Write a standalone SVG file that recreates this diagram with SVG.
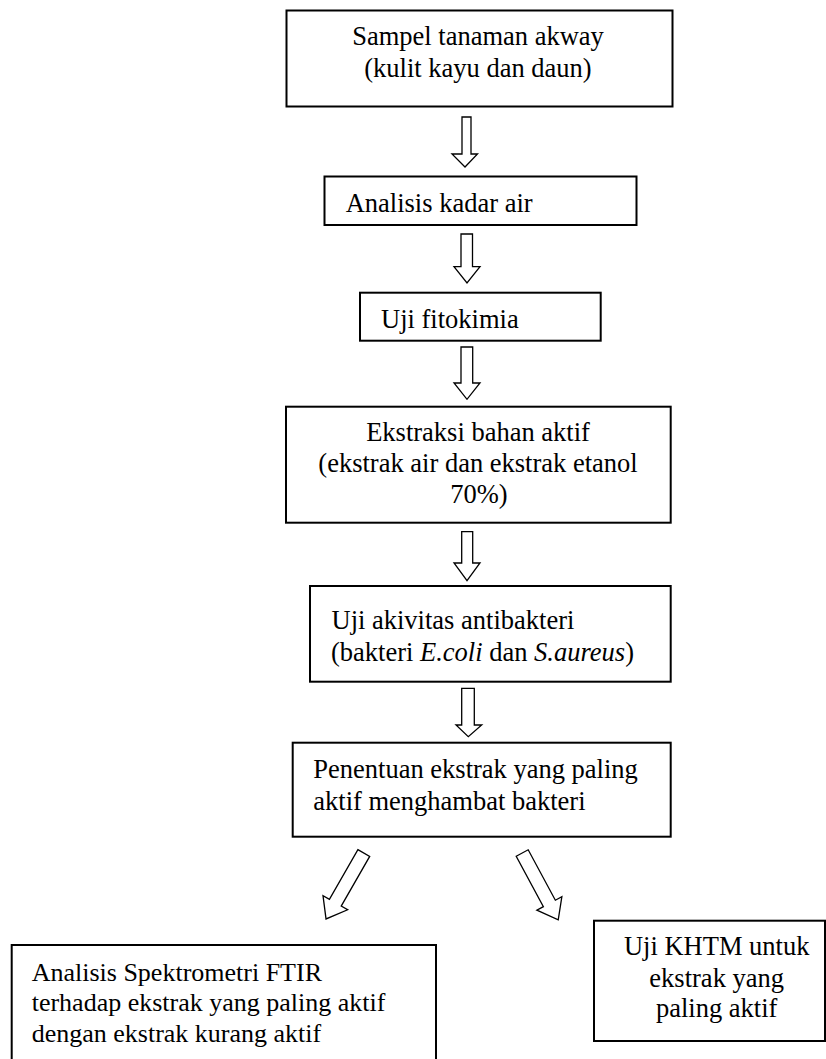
<svg xmlns="http://www.w3.org/2000/svg" width="826" height="1059" viewBox="0 0 826 1059">
<style>
.box{fill:#fff;stroke:#000;stroke-width:2}
.arr{fill:#fff;stroke:#000;stroke-width:1.3;stroke-linejoin:miter}
.t text{font-size:26.5px;fill:#000}
.t .s26 text{font-size:26px}
.c{text-anchor:middle}
.i{font-style:italic}
</style>
<defs>
<polygon id="diag" points="-6.8,0 6.8,0 6.8,57.3 14.2,57.3 0,76 -14.2,57.3 -6.8,57.3"/>
</defs>
<rect width="826" height="1059" fill="#fff"/>
<g id="connectors">
<polygon class="arr" points="462,117 471,117 471,154 477.5,154 465,167 452,154 462,154"/>
<polygon class="arr" points="461,234 472.5,234 472.5,266.7 480,266.7 467,283 454,266.7 461,266.7"/>
<polygon class="arr" points="461,347 472.7,347 472.7,383 480,383 467,399.3 454,383 461,383"/>
<polygon class="arr" points="461.7,531.7 472.7,531.7 472.7,563 480,563 467,580.7 454,563 461.7,563"/>
<polygon class="arr" points="461.7,688.3 474.3,688.3 474.3,725 481.7,725 468.3,736.7 456,725 461.7,725"/>
<use href="#diag" class="arr" transform="translate(363.8,853) rotate(29.8)"/>
<use href="#diag" class="arr" transform="translate(522.2,853) rotate(-28.3)"/>
</g>
<g class="t" font-family="Liberation Serif, Tinos, Times New Roman, DejaVu Serif, serif">
<g id="n1">
<rect class="box" x="286.5" y="10.5" width="386" height="96"/>
<text class="c" x="478" y="45">Sampel tanaman akway</text>
<text class="c" x="478" y="77">(kulit kayu dan daun)</text>
</g>
<g id="n2">
<rect class="box" x="324.5" y="176.5" width="312" height="48.5"/>
<text x="345.7" y="211.7">Analisis kadar air</text>
</g>
<g id="n3">
<rect class="box" x="360" y="292.7" width="240.7" height="48"/>
<text x="381" y="328">Uji fitokimia</text>
</g>
<g id="n4">
<rect class="box" x="286" y="406.7" width="384.7" height="116"/>
<text class="c" x="478" y="440.7">Ekstraksi bahan aktif</text>
<text class="c" x="478" y="471.7">(ekstrak air dan ekstrak etanol</text>
<text class="c" x="479" y="502.7">70%)</text>
</g>
<g id="n5">
<rect class="box" x="310" y="586" width="360.7" height="95.7"/>
<text x="331.5" y="629.3">Uji akivitas antibakteri</text>
<text x="331" y="660.7">(bakteri <tspan class="i">E.coli</tspan> dan <tspan class="i">S.aureus</tspan>)</text>
</g>
<g id="n6">
<rect class="box" x="292.7" y="742.7" width="378" height="94"/>
<text x="313.3" y="778.3">Penentuan ekstrak yang paling</text>
<text x="313.3" y="810">aktif menghambat bakteri</text>
</g>
<g id="n7" class="s26">
<rect class="box" x="11.7" y="945" width="424.3" height="130"/>
<text x="31.7" y="981">Analisis Spektrometri FTIR</text>
<text x="31.7" y="1011">terhadap ekstrak yang paling aktif</text>
<text x="31.7" y="1042">dengan ekstrak kurang aktif</text>
</g>
<g id="n8">
<rect class="box" x="594" y="920.7" width="231" height="120.3"/>
<text class="c" x="716.7" y="955">Uji KHTM untuk</text>
<text class="c" x="716.7" y="986.7">ekstrak yang</text>
<text class="c" x="716.7" y="1016.7">paling aktif</text>
</g>
</g>
</svg>
